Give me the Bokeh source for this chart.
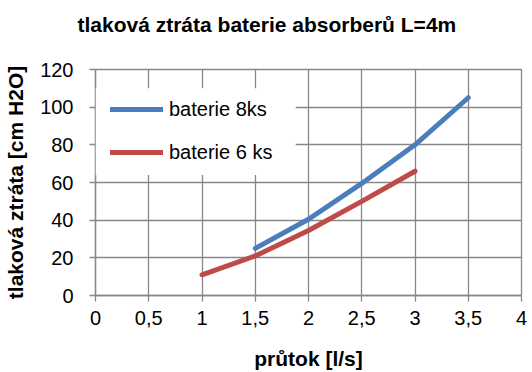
from bokeh.plotting import figure
from bokeh.models import FixedTicker, Legend, LegendItem, BoxAnnotation, Title
from bokeh.embed import file_html
from bokeh.resources import INLINE

# flow rate [l/s] and pressure loss [cm H2O]
flow_8ks = [1.5, 2.0, 2.5, 3.0, 3.5]
loss_8ks = [25, 40.5, 59.5, 80, 105]
flow_6ks = [1.0, 1.5, 2.0, 2.5, 3.0]
loss_6ks = [11, 21, 34.5, 50, 66]

x_ticks = [0, 0.5, 1, 1.5, 2, 2.5, 3, 3.5, 4]
x_tick_labels = ["0", "0,5", "1", "1,5", "2", "2,5", "3", "3,5", "4"]
y_ticks = [0, 20, 40, 60, 80, 100, 120]

TITLE = "tlaková ztráta baterie absorberů L=4m"
FONT = "Liberation Sans"
GRID = "#878787"

W, H = 532, 372
LEFT, RIGHT, TOP, BOTTOM = 95, 11, 67, 74

p = figure(width=W, height=H, output_backend="svg", toolbar_location=None,
           title=None, x_range=(0, 4), y_range=(0, 120),
           min_border_left=LEFT, min_border_right=RIGHT,
           min_border_top=TOP, min_border_bottom=BOTTOM)

# blank gap between the frame and the title (first panel sits next to the frame)
p.add_layout(Title(text=" ", text_font=FONT, text_font_size="10px",
                   standoff=11), "above")
p.add_layout(Title(text=TITLE, text_font=FONT, text_font_size="21px",
                   text_font_style="bold", text_color="black",
                   align="left", offset=-18, standoff=20), "above")

p.outline_line_color = GRID
p.outline_line_width = 1.3
p.background_fill_color = "white"
p.border_fill_color = "white"

x_axis = p.below[0]
y_axis = p.left[0]
for ax in (x_axis, y_axis):
    ax.axis_line_color = GRID
    ax.axis_line_width = 1.3
    ax.major_tick_line_color = GRID
    ax.major_tick_line_width = 1.3
    ax.major_tick_out = 6
    ax.major_tick_in = 0
    ax.minor_tick_line_color = None
    ax.major_label_text_font = FONT
    ax.major_label_text_font_size = "20px"
    ax.major_label_text_color = "black"
    ax.axis_label_text_font = FONT
    ax.axis_label_text_font_size = "21px"
    ax.axis_label_text_font_style = "bold"
    ax.axis_label_text_color = "black"

x_axis.ticker = FixedTicker(ticks=x_ticks)
x_axis.major_label_overrides = dict(zip(x_ticks, x_tick_labels))
x_axis.axis_label = "průtok [l/s]"
x_axis.major_label_standoff = 9
x_axis.axis_label_standoff = 19

y_axis.ticker = FixedTicker(ticks=y_ticks)
y_axis.axis_label = "tlaková ztráta [cm H2O]"
y_axis.major_label_standoff = 16
y_axis.axis_label_standoff = 10

for g in (p.xgrid[0], p.ygrid[0]):
    g.grid_line_color = GRID
    g.grid_line_width = 1.3
p.xgrid[0].ticker = FixedTicker(ticks=x_ticks)
p.ygrid[0].ticker = FixedTicker(ticks=y_ticks)

r8 = p.line(flow_8ks, loss_8ks, line_color="#4A7EBB", line_width=5, line_cap="round", line_join="round")
r6 = p.line(flow_6ks, loss_6ks, line_color="#BE4B48", line_width=5, line_cap="round", line_join="round")

# white panel behind the legend entries, flush with the y axis
p.add_layout(BoxAnnotation(left=0, right=1.88, bottom=64, top=110,
                           fill_color="white", fill_alpha=1.0,
                           line_color=None, level="overlay"))

legend = Legend(items=[LegendItem(label="baterie 8ks", renderers=[r8]),
                       LegendItem(label="baterie 6 ks", renderers=[r6])],
                location=(15, 131), glyph_width=53, glyph_height=24,
                label_standoff=6, spacing=19, padding=12, margin=0,
                border_line_color=None, background_fill_color="white",
                background_fill_alpha=1.0,
                label_text_font=FONT, label_text_font_size="20px",
                label_text_color="black")
p.add_layout(legend)

open("out.html", "w").write(file_html(p, INLINE))
